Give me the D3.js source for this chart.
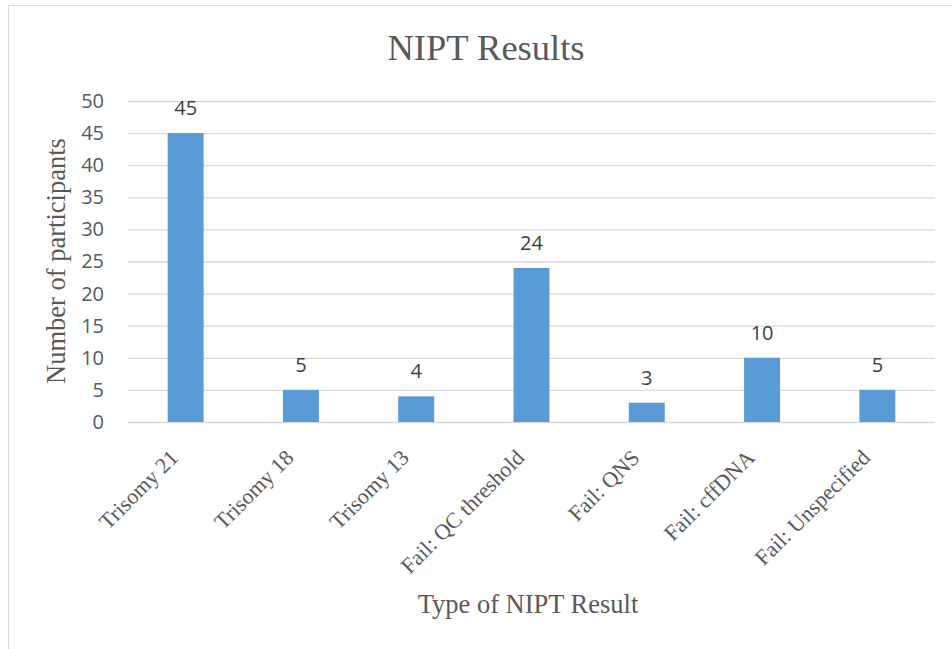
<!DOCTYPE html>
<html>
<head>
<meta charset="utf-8">
<script src="https://cdn.jsdelivr.net/npm/d3@7"></script>
<style>
  body { margin: 0; background: #fff; }
  svg { display: block; }
</style>
</head>
<body>
<script>
// chart data
let categories = ["Trisomy 21", "Trisomy 18", "Trisomy 13", "Fail: QC threshold", "Fail: QNS", "Fail: cffDNA", "Fail: Unspecified"];
let counts = [45, 5, 4, 24, 3, 10, 5];
let yTicks = [0, 5, 10, 15, 20, 25, 30, 35, 40, 45, 50];

let margin = { top: 101, left: 128, bottom: 227, right: 17 },
  width = 952 - margin.left - margin.right,
  height = 649 - margin.top - margin.bottom;

let serif = "'Liberation Serif', 'Times New Roman', serif";
let sans = "'Open Sans', 'Liberation Sans', sans-serif";
let textColor = "#595959";

let root = d3.select("body").append("svg")
  .attr("width", 952)
  .attr("height", 649);

// outer chart border
root.append("rect")
  .attr("x", 8.5).attr("y", 5.5)
  .attr("width", 960).attr("height", 660)
  .attr("fill", "#fff")
  .attr("stroke", "#d9d9d9");

let svg = root.append("g")
  .attr("transform", `translate(${margin.left}, ${margin.top})`);

let x = d3.scaleBand()
  .domain(categories)
  .range([0, width])
  .paddingInner(0.688)
  .paddingOuter(0.344);

let y = d3.scaleLinear()
  .domain([0, 50])
  .range([height, 0]);

// gridlines + y labels
let yAxis = svg.append("g")
  .call(d3.axisLeft(y).tickValues(yTicks).tickSize(-width).tickPadding(24));
yAxis.select(".domain").remove();
yAxis.selectAll(".tick line").attr("stroke", "#d9d9d9").attr("stroke-width", 1.3);
yAxis.selectAll(".tick text")
  .attr("fill", textColor)
  .style("font-family", sans)
  .style("font-size", "20px");

// bars
svg.selectAll(".bar")
  .data(counts)
  .enter().append("rect")
  .attr("class", "bar")
  .attr("x", (d, i) => x(categories[i]))
  .attr("width", x.bandwidth())
  .attr("y", d => y(d))
  .attr("height", d => height - y(d))
  .attr("fill", "#5b9bd5");

// value labels
svg.selectAll(".val")
  .data(counts)
  .enter().append("text")
  .attr("class", "val")
  .attr("x", (d, i) => x(categories[i]) + x.bandwidth() / 2)
  .attr("y", d => y(d) - 18)
  .attr("text-anchor", "middle")
  .attr("fill", "#404040")
  .style("font-family", sans)
  .style("font-size", "20px")
  .text(d => d);

// category labels
svg.selectAll(".cat")
  .data(categories)
  .enter().append("text")
  .attr("class", "cat")
  .attr("transform", d => `translate(${x(d) + x.bandwidth() / 2 - 6}, ${height + 37}) rotate(-45)`)
  .attr("text-anchor", "end")
  .attr("fill", textColor)
  .style("font-family", serif)
  .style("font-size", "22px")
  .text(d => d);

// title
root.append("text")
  .attr("x", 486)
  .attr("y", 60)
  .attr("text-anchor", "middle")
  .attr("fill", textColor)
  .style("font-family", serif)
  .style("font-size", "36.5px")
  .text("NIPT Results");

// axis titles
root.append("text")
  .attr("x", 528)
  .attr("y", 613)
  .attr("text-anchor", "middle")
  .attr("fill", textColor)
  .style("font-family", serif)
  .style("font-size", "26.5px")
  .text("Type of NIPT Result");

root.append("text")
  .attr("transform", "translate(65, 261) rotate(-90)")
  .attr("text-anchor", "middle")
  .attr("fill", textColor)
  .style("font-family", serif)
  .style("font-size", "26.5px")
  .text("Number of participants");
</script>
</body>
</html>
